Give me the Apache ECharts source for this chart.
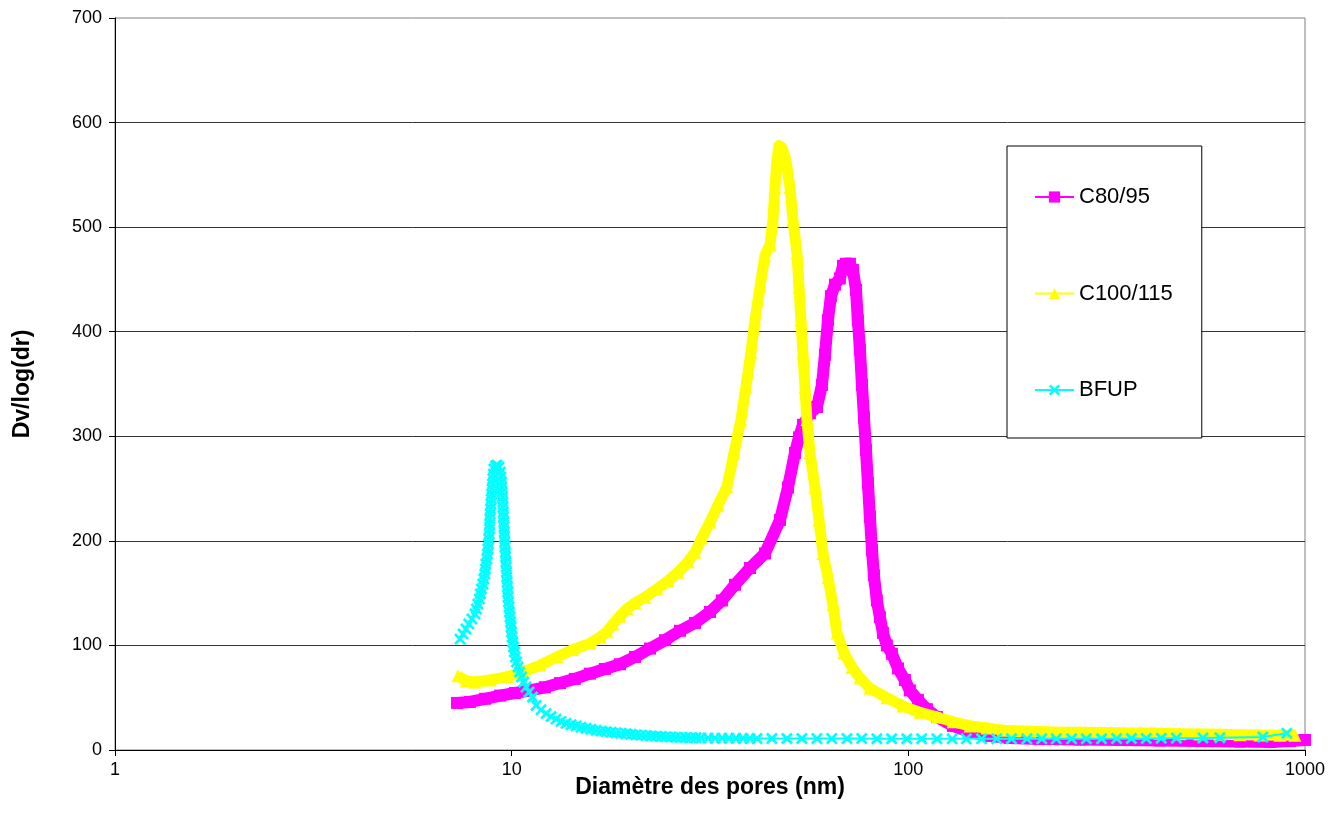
<!DOCTYPE html>
<html>
<head>
<meta charset="utf-8">
<title>Distribution de la taille des pores</title>
<script src="https://cdn.jsdelivr.net/npm/echarts@6/dist/echarts.min.js"></script>
<style>
  html, body { margin: 0; padding: 0; background: #ffffff; }
  #chart { width: 1343px; height: 825px; }
</style>
</head>
<body>
<div id="chart"></div>
<script>
// Pore diameter (nm) and Dv/log(dr) for each material
const c80Diameter = [7.28, 7.85, 8.57, 9.35, 10.19, 11.12, 12.13, 13.24, 14.43, 15.75, 17.18, 18.75, 20.46, 22.32, 24.35, 26.57, 28.98, 31.62, 33.89, 36.55, 39.88, 43.51, 47.47, 49.72, 51.78, 53.0, 54.24, 56.49, 58.83, 60.56, 61.63, 62.71, 63.8, 65.3, 67.2, 68.42, 69.6, 71.25, 72.5, 73.8, 74.6, 75.5, 76.4, 77.3, 78.2, 79.1, 80.0, 81.0, 81.9, 83.3, 84.8, 86.3, 88.3, 90.9, 94.2, 98.0, 100.9, 105.7, 111.4, 118.1, 129.6, 143.0, 160.6, 180.4, 214.6, 270.7, 341.6, 430.8, 543.2, 685.4, 815.6, 916, 1000];
const c80Dv = [45, 46, 49, 52, 54.5, 57, 60, 64, 68, 73, 77.5, 82, 89, 97, 105, 114, 121.5, 132, 143, 158, 174, 188, 220, 251, 284, 299, 311, 322, 328, 349, 378, 411, 434, 445, 451, 463, 465, 465, 459, 440, 411, 383, 349, 318, 287, 255, 223, 191, 167, 143, 127, 112, 100, 92, 78, 67, 57, 48, 39, 31.5, 23, 17, 13.4, 11.5, 10.5, 10, 9.6, 9.1, 8.6, 8.1, 7.6, 8.6, 9.6];

const c100Diameter = [7.32, 7.67, 8.08, 8.82, 9.73, 10.68, 11.79, 13.01, 14.27, 15.75, 16.70, 17.39, 18.01, 18.75, 19.53, 20.46, 21.68, 23.25, 24.77, 26.26, 27.83, 28.98, 30.18, 31.62, 33.12, 34.89, 36.34, 37.85, 38.96, 40.11, 41.06, 42.27, 43.51, 44.79, 45.58, 46.11, 46.65, 47.20, 48.03, 49.14, 50.30, 51.18, 52.39, 53.00, 53.62, 54.24, 54.88, 55.50, 56.49, 58.15, 59.52, 60.92, 62.71, 64.55, 66.07, 68.82, 72.1, 75.5, 80.0, 88.3, 96.9, 106.9, 118.1, 129.6, 143.0, 157.8, 173.2, 185.7, 202.5, 221, 241.1, 270.7, 304.1, 341.6, 383.6, 430.8, 483.9, 543.2, 610.3, 685.4, 769.6, 864.5, 942.9];
const c100Dv = [71, 66, 65, 67, 70, 74.6, 81, 89, 96, 102, 108, 113, 120.5, 128, 135, 140.6, 146, 154, 161.6, 170, 180, 189, 203, 218, 234, 251.5, 284, 316, 347, 380, 411, 443, 473, 483, 507, 538, 564, 578, 576, 564, 538, 507, 475, 443, 411, 380, 347, 316, 284, 251.5, 220, 188, 165, 139, 112, 93, 79, 69, 59, 50, 42, 36, 31.5, 27, 23, 21, 19, 18.5, 18, 17.5, 17, 17, 16.7, 16.5, 16.3, 16, 15.5, 15.3, 15, 14.7, 14.3, 14.2, 14];

const bfupDiameter = [7.41, 7.54, 7.67, 7.80, 7.94, 8.08, 8.15, 8.22, 8.29, 8.34, 8.39, 8.46, 8.51, 8.56, 8.59, 8.61, 8.66, 8.69, 8.71, 8.74, 8.76, 8.78, 8.79, 8.805, 8.815, 8.83, 8.846, 8.866, 8.887, 8.907, 8.928, 8.949, 8.969, 8.995, 9.021, 9.10, 9.18, 9.29,
  9.358, 9.396, 9.429, 9.451, 9.467, 9.484, 9.500, 9.511, 9.522, 9.539, 9.550, 9.566, 9.577, 9.594, 9.605, 9.622, 9.639, 9.655, 9.672, 9.689, 9.706, 9.723, 9.740, 9.757, 9.774, 9.791, 9.819, 9.848, 9.876, 9.905, 9.934, 9.963, 9.992, 10.021, 10.067, 10.108, 10.156, 10.215, 10.287, 10.377, 10.468, 10.590, 10.727, 10.871, 11.062, 11.289,
  11.52, 11.86, 12.21, 12.57, 12.94, 13.32, 13.71, 14.11, 14.53, 14.96, 15.40, 15.85, 16.32, 16.80, 17.29, 17.80, 18.33, 18.87, 19.42, 19.99, 20.58, 21.19, 21.81, 22.45, 23.11, 23.79, 24.49, 25.21, 25.95, 26.72, 27.50, 28.31, 29.15, 30.00,
  31.25, 32.54, 33.89, 35.30, 36.76, 38.29, 39.87, 41.53,
  45.3, 49.4, 53.9, 58.8, 64.1, 70.0, 76.3, 83.3, 90.8, 99.1, 108, 118, 129, 140, 153, 167, 182, 199, 217, 236, 258, 281, 307, 335, 365, 398, 434, 474, 553, 610, 783, 900];
const bfupDv = [106.1, 110.9, 115.7, 120.5, 125.3, 130.1, 134.8, 139.6, 144.4, 149.2, 154.0, 158.7, 163.5, 168.3, 173.1, 177.9, 182.7, 187.4, 192.2, 197, 201.8, 206.6, 211.3, 216.1, 220.9, 225.7, 230.5, 235.2, 240, 244.8, 249.6, 254.4, 259.2, 263.9, 268.7, 271.6, 272.5, 270.6,
  265.8, 261, 256.3, 251.5, 246.7, 241.9, 237.2, 232.4, 227.6, 222.8, 218, 213.3, 208.5, 203.7, 198.9, 194.1, 189.3, 184.6, 179.8, 175, 170.2, 165.4, 160.7, 155.9, 151.1, 146.3, 141.5, 136.8, 132, 127.2, 122.4, 117.6, 112.8, 108.1, 103.3, 98.5, 93.7, 88.9, 84.2, 79.4, 74.6, 69.8, 65, 60.2, 55.5, 50.7,
  42.6, 38.4, 34.8, 32.0, 29.6, 27.3, 25.5, 24.2, 23.0, 21.7, 20.7, 19.8, 18.8, 18.1, 17.5, 16.9, 16.4, 15.9, 15.5, 15.0, 14.5, 14.2, 13.8, 13.5, 13.2, 12.9, 12.7, 12.4, 12.2, 12.0, 11.9, 11.7, 11.6, 11.5,
  11.4, 11.3, 11.3, 11.2, 11.2, 11.1, 11.1, 11.0,
  11.0, 11.0, 11.0, 10.9, 10.9, 10.9, 10.9, 10.8, 10.8, 10.8, 10.8, 10.8, 10.7, 10.7, 10.7, 10.7, 10.7, 10.7, 10.7, 10.7, 10.7, 10.8, 10.8, 10.9, 11, 11, 11.2, 11.3, 11.5, 11.8, 12.4, 16];

const seriesNames = ['C80/95', 'C100/115', 'BFUP'];
const seriesColors = ['#FF00FF', '#FFFF00', '#00FFFF'];

// Thick "x" marker drawn as a filled outline
const crossSymbol = 'path://M0,1.6L1.6,0L5,3.4L8.4,0L10,1.6L6.6,5L10,8.4L8.4,10L5,6.6L1.6,10L0,8.4L3.4,5Z';

function pairs(xs, ys) {
  return xs.map(function (x, i) { return [x, ys[i]]; });
}

const fontFamily = '"Liberation Sans", Arial, sans-serif';

const chart = echarts.init(document.getElementById('chart'), null, { renderer: 'canvas' });

chart.setOption({
  animation: false,
  backgroundColor: '#ffffff',
  textStyle: { fontFamily: fontFamily },
  grid: {
    left: 115, right: 38, top: 18, bottom: 75, containLabel: false,
    show: true, borderColor: '#808080', borderWidth: 1, backgroundColor: 'transparent'
  },
  legend: {
    orient: 'vertical',
    left: 1007,
    top: 146,
    data: seriesNames,
    itemWidth: 39,
    itemHeight: 14,
    itemGap: 74.5,
    padding: [40, 29, 37, 27],
    borderColor: '#000000',
    borderWidth: 1,
    backgroundColor: '#ffffff',
    selectedMode: false,
    lineStyle: { width: 2 },
    textStyle: { fontSize: 22, lineHeight: 22, color: '#000000', fontFamily: fontFamily }
  },
  xAxis: {
    type: 'log',
    logBase: 10,
    min: 1,
    max: 1000,
    name: 'Diamètre des pores (nm)',
    nameLocation: 'middle',
    nameGap: 26,
    nameMoveOverlap: false,
    nameTextStyle: { fontSize: 23, fontWeight: 'bold', color: '#000000', verticalAlign: 'top' },
    axisLine: { show: true, lineStyle: { color: '#000000', width: 1 } },
    axisTick: { show: true, inside: false, length: 6, lineStyle: { color: '#000000' } },
    axisLabel: {
      fontSize: 18, color: '#000000', margin: 11,
      formatter: function (v) { return String(Math.round(v)); }
    },
    splitLine: { show: false },
    minorTick: { show: false }
  },
  yAxis: {
    type: 'value',
    min: 0,
    max: 700,
    interval: 100,
    name: 'Dv/log(dr)',
    nameLocation: 'middle',
    nameGap: 81,
    nameRotate: 90,
    nameTextStyle: { fontSize: 23, fontWeight: 'bold', color: '#000000' },
    axisLine: { show: true, lineStyle: { color: '#000000', width: 1 } },
    axisTick: { show: true, inside: false, length: 6, lineStyle: { color: '#000000' } },
    axisLabel: { fontSize: 18, color: '#000000', margin: 13 },
    splitLine: { show: true, showMaxLine: false, lineStyle: { color: '#333333', width: 1 } }
  },
  series: [
    {
      name: seriesNames[0],
      type: 'line',
      data: pairs(c80Diameter, c80Dv),
      symbol: 'rect',
      symbolSize: 12,
      showAllSymbol: true,
      lineStyle: { color: seriesColors[0], width: 12, join: 'round' },
      itemStyle: { color: seriesColors[0] },
      z: 2
    },
    {
      name: seriesNames[1],
      type: 'line',
      data: pairs(c100Diameter, c100Dv),
      symbol: 'triangle',
      symbolSize: 13,
      showAllSymbol: true,
      lineStyle: { color: seriesColors[1], width: 11, join: 'round' },
      itemStyle: { color: seriesColors[1] },
      z: 3
    },
    {
      name: seriesNames[2],
      type: 'line',
      data: pairs(bfupDiameter, bfupDv),
      symbol: crossSymbol,
      symbolSize: 12,
      showAllSymbol: true,
      lineStyle: { color: seriesColors[2], width: 2, join: 'round' },
      itemStyle: { color: seriesColors[2] },
      z: 4
    }
  ]
});
</script>
</body>
</html>
